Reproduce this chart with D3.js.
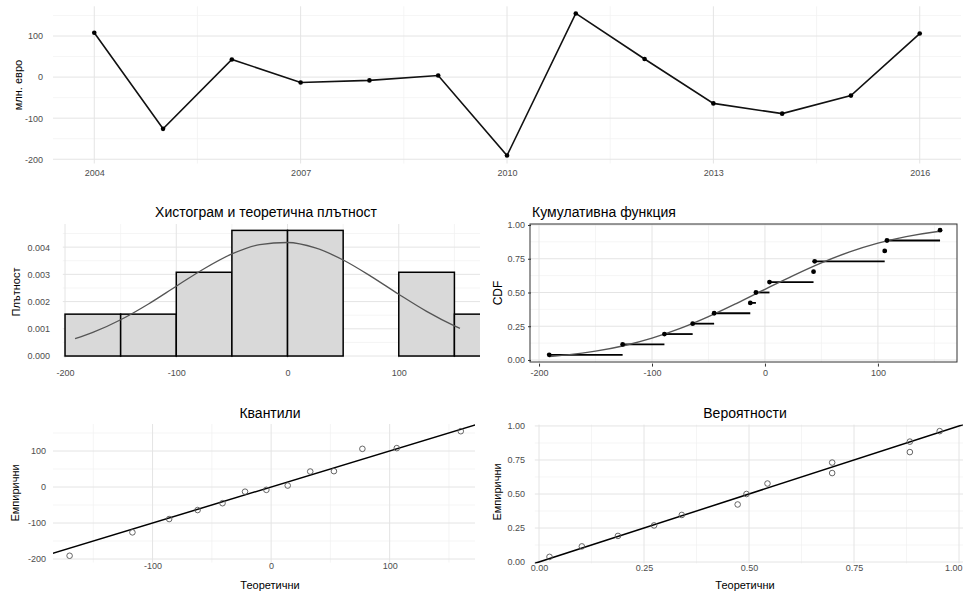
<!DOCTYPE html>
<html><head><meta charset="utf-8">
<script src="https://cdn.jsdelivr.net/npm/d3@7"></script>
<style>
body{margin:0;background:#fff}
text{font-family:"Liberation Sans",Arial,Helvetica,sans-serif}
</style>
</head><body>
<svg id="c" width="963" height="592"></svg>
<script>
// ---------- data ----------
const years = [2004,2005,2006,2007,2008,2009,2010,2011,2012,2013,2014,2015,2016];
const values = [108,-126,43,-13,-8,4,-191,155,44,-64,-89,-45,106];
const empProb = [0.038,0.115,0.192,0.269,0.346,0.423,0.5,0.577,0.654,0.731,0.808,0.885,0.962];
const qqTheo = [-170,-117,-86,-62,-41,-22,-4,14,33,53,77,106,160];
const ppTheo = [0.025,0.102,0.188,0.274,0.340,0.473,0.494,0.544,0.698,0.698,0.883,0.883,0.954];
const curveX = [-191,-175,-150,-125,-100,-75,-50,-25,0,25,50,75,100,125,150,155];
const densY = [0.000635,0.000866,0.001332,0.001913,0.002565,0.003208,0.003750,0.004093,0.004171,0.003970,0.003527,0.002927,0.002267,0.001640,0.001108,0.001015];
const cdfY = [0.0261,0.0380,0.0653,0.1057,0.1616,0.2336,0.3210,0.4196,0.5234,0.6255,0.7197,0.8007,0.8656,0.9143,0.9484,0.9537];
const histBreaks = [-200,-150,-100,-50,0,50,100,150,200];

const yearTicks = [2004,2007,2010,2013,2016];
const yearMinor = [2005.5,2008.5,2011.5,2014.5];
const valTicks = [-200,-100,0,100];
const valMinor = [-150,-50,50,150];
const densTicks = [0,0.001,0.002,0.003,0.004];
const densMinor = [0.0005,0.0015,0.0025,0.0035,0.0045];
const probTicks = [0,0.25,0.5,0.75,1];
const probMinor = [0.125,0.375,0.625,0.875];
const qqXTicks = [-100,0,100];

const titles = {
  yTop: "млн. евро",
  hist: "Хистограм и теоретична плътност", yHist: "Плътност",
  cdf: "Кумулативна функция", yCdf: "CDF",
  qq: "Квантили", pp: "Вероятности",
  emp: "Емпирични", theo: "Теоретични"
};

// ---------- helpers ----------
const svg = d3.select("#c");
const FONT = '"Liberation Sans",Arial,Helvetica,sans-serif';
let clipId = 0;

function grid(x, y, xMaj, xMin, yMaj, yMin) {
  const [x0, x1] = x.range(), [y1, y0] = y.range();
  const g = svg.append("g");
  const L = (arr, vert, col, w) => g.selectAll(null).data(arr).enter().append("line")
    .attr("x1", d => vert ? x(d) : x0).attr("x2", d => vert ? x(d) : x1)
    .attr("y1", d => vert ? y0 : y(d)).attr("y2", d => vert ? y1 : y(d))
    .attr("stroke", col).attr("stroke-width", w);
  L(xMin, true, "#f1f1f1", 0.7); L(yMin, false, "#f1f1f1", 0.7);
  L(xMaj, true, "#e4e4e4", 1); L(yMaj, false, "#e4e4e4", 1);
}
function clip(x, y) {
  const [x0, x1] = x.range(), [y1, y0] = y.range();
  const id = "clip" + (clipId++);
  svg.append("clipPath").attr("id", id).append("rect")
    .attr("x", x0).attr("y", y0).attr("width", x1 - x0).attr("height", y1 - y0);
  return svg.append("g").attr("clip-path", `url(#${id})`);
}
function styleAxis(g) {
  g.select(".domain").remove();
  g.selectAll("text").attr("font-size", 9).attr("fill", "#4d4d4d").attr("font-family", FONT);
  g.selectAll("line").attr("stroke", "#333");
  return g;
}
function leftAxis(y, ticks, fmt, xRight, tickLen) {
  const pad = 3;
  const g = svg.append("g").attr("transform", `translate(${xRight + pad + tickLen},0)`)
    .call(d3.axisLeft(y).tickValues(ticks).tickFormat(fmt).tickSize(tickLen).tickPadding(pad));
  return styleAxis(g);
}
function bottomAxis(x, ticks, fmt, baseline, tickLen) {
  const pad = 3;
  const top = baseline - 6.4;
  const g = svg.append("g").attr("transform", `translate(0,${top - pad - tickLen})`)
    .call(d3.axisBottom(x).tickValues(ticks).tickFormat(fmt).tickSize(tickLen).tickPadding(pad));
  return styleAxis(g);
}
function txt(s, x, y, size, anchor, rot, weight) {
  const t = svg.append("text").text(s).attr("font-size", size).attr("fill", "#000")
    .attr("text-anchor", anchor).attr("font-family", FONT);
  if (weight) t.attr("font-weight", weight);
  if (rot) t.attr("transform", `translate(${x},${y}) rotate(-90)`).attr("dy", "0.35em");
  else t.attr("x", x).attr("y", y);
  return t;
}
const fInt = d => String(d);
const f3 = d => d.toFixed(3);
const f2 = d => d.toFixed(2);

// ---------- top: time series ----------
{
  const x = d3.scaleLinear().domain([2003.4, 2016.6]).range([53, 961]);
  const y = d3.scaleLinear().domain([-210.4, 172.4]).range([163.5, 6.3]);
  grid(x, y, yearTicks, yearMinor, valTicks, valMinor);
  const pts = years.map((yr, i) => [yr, values[i]]);
  svg.append("path").datum(pts)
    .attr("d", d3.line().x(d => x(d[0])).y(d => y(d[1])))
    .attr("fill", "none").attr("stroke", "#111").attr("stroke-width", 1.6);
  svg.append("g").selectAll("circle").data(pts).enter().append("circle")
    .attr("cx", d => x(d[0])).attr("cy", d => y(d[1])).attr("r", 2.3).attr("fill", "#000");
  leftAxis(y, valTicks, fInt, 43, 0);
  bottomAxis(x, yearTicks, d3.format("d"), 176, 0);
  txt(titles.yTop, 18, 85, 11, "middle", true);
}

// ---------- histogram + density ----------
{
  const x = d3.scaleLinear().domain([-202, 173]).range([62.8, 480]);
  const y = d3.scaleLinear().domain([-0.00008, 0.00485]).range([358.2, 224]);
  grid(x, y, valTicks, valMinor, densTicks, densMinor);
  const n = values.length;
  const bins = d3.bin().domain([histBreaks[0], histBreaks[histBreaks.length - 1]]).thresholds(histBreaks)(values);
  const g = clip(x, y);
  g.selectAll("rect").data(bins).enter().append("rect")
    .attr("x", d => x(d.x0)).attr("width", d => x(d.x1) - x(d.x0))
    .attr("y", d => y(d.length / (n * (d.x1 - d.x0))))
    .attr("height", d => y(0) - y(d.length / (n * (d.x1 - d.x0))))
    .attr("fill", "#d9d9d9").attr("stroke", "#000").attr("stroke-width", 1.5);
  g.append("path").datum(curveX.map((v, i) => [v, densY[i]]))
    .attr("d", d3.line().x(d => x(d[0])).y(d => y(d[1])).curve(d3.curveMonotoneX))
    .attr("fill", "none").attr("stroke", "#555").attr("stroke-width", 1.3);
  leftAxis(y, densTicks, f3, 50, 0);
  bottomAxis(x, valTicks, fInt, 376, 0);
  txt(titles.hist, 266, 217, 14, "middle");
  txt(titles.yHist, 16, 292, 11, "middle", true);
}

// ---------- CDF ----------
{
  const x = d3.scaleLinear().domain([-208, 170]).range([530, 957]);
  const y = d3.scaleLinear().domain([-0.015, 1.0074]).range([362, 224]);
  grid(x, y, valTicks, valMinor, probTicks, probMinor);
  const sorted = values.slice().sort(d3.ascending);
  const g = clip(x, y);
  const steps = sorted.slice(0, -1).map((v, i) => ({x0: v, x1: sorted[i + 1], p: empProb[i]}));
  g.selectAll("line.step").data(steps).enter().append("line")
    .attr("x1", d => x(d.x0)).attr("x2", d => x(d.x1))
    .attr("y1", d => y(d.p)).attr("y2", d => y(d.p))
    .attr("stroke", "#000").attr("stroke-width", 1.8);
  g.append("path").datum(curveX.map((v, i) => [v, cdfY[i]]))
    .attr("d", d3.line().x(d => x(d[0])).y(d => y(d[1])).curve(d3.curveMonotoneX))
    .attr("fill", "none").attr("stroke", "#555").attr("stroke-width", 1.4);
  g.selectAll("circle").data(sorted).enter().append("circle")
    .attr("cx", d => x(d)).attr("cy", (d, i) => y(empProb[i])).attr("r", 2.4).attr("fill", "#000");
  svg.append("rect").attr("x", 530).attr("y", 224).attr("width", 427).attr("height", 138)
    .attr("fill", "none").attr("stroke", "#333").attr("stroke-width", 1);
  leftAxis(y, probTicks, f2, 525, 3);
  bottomAxis(x, valTicks, fInt, 376, 3);
  txt(titles.cdf, 532, 217, 14, "start");
  txt(titles.yCdf, 498, 293, 12, "middle", true);
}

// ---------- Q-Q ----------
{
  const x = d3.scaleLinear().domain([-184, 172]).range([53, 475]);
  const y = d3.scaleLinear().domain([-210, 175]).range([562.6, 424]);
  grid(x, y, qqXTicks, valMinor, valTicks, valMinor);
  const sorted = values.slice().sort(d3.ascending);
  const g = clip(x, y);
  g.append("line").attr("x1", x(-250)).attr("y1", y(-250)).attr("x2", x(250)).attr("y2", y(250))
    .attr("stroke", "#000").attr("stroke-width", 1.5);
  g.selectAll("circle").data(sorted).enter().append("circle")
    .attr("cx", (d, i) => x(qqTheo[i])).attr("cy", d => y(d)).attr("r", 2.8)
    .attr("fill", "none").attr("stroke", "#555").attr("stroke-width", 0.9);
  leftAxis(y, valTicks, fInt, 46, 0);
  bottomAxis(x, qqXTicks, fInt, 569, 0);
  txt(titles.qq, 270, 418, 14, "middle");
  txt(titles.emp, 15, 493, 11, "middle", true);
  txt(titles.theo, 270, 589, 11, "middle");
}

// ---------- P-P ----------
{
  const x = d3.scaleLinear().domain([-0.01, 1.01]).range([534.8, 963.2]);
  const y = d3.scaleLinear().domain([-0.01, 1.01]).range([563.4, 424.6]);
  grid(x, y, probTicks, probMinor, probTicks, probMinor);
  const g = clip(x, y);
  g.append("line").attr("x1", x(-0.1)).attr("y1", y(-0.1)).attr("x2", x(1.1)).attr("y2", y(1.1))
    .attr("stroke", "#000").attr("stroke-width", 1.5);
  g.selectAll("circle").data(ppTheo).enter().append("circle")
    .attr("cx", d => x(d)).attr("cy", (d, i) => y(empProb[i])).attr("r", 2.8)
    .attr("fill", "none").attr("stroke", "#555").attr("stroke-width", 0.9);
  leftAxis(y, probTicks, f2, 525, 0);
  const ax = bottomAxis(x, probTicks, f2, 571, 0);
  // keep the last tick label inside the picture
  ax.selectAll(".tick").filter(d => d === 1).select("text").attr("text-anchor", "end").attr("x", 3);
  txt(titles.pp, 745, 418, 14, "middle");
  txt(titles.emp, 497, 492, 11, "middle", true);
  txt(titles.theo, 745, 589, 11, "middle");
}
</script>
</body></html>
